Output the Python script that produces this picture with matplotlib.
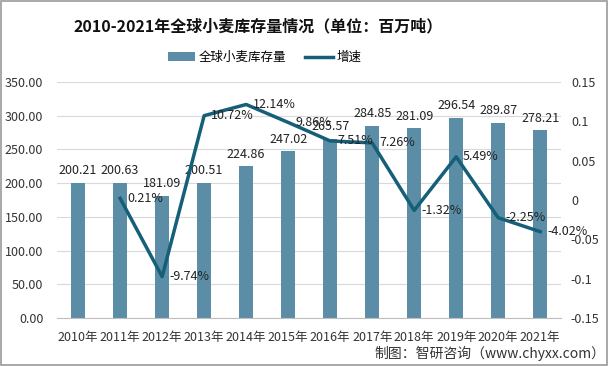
import matplotlib.pyplot as plt
from matplotlib.patches import Rectangle

plt.rcParams['font.family'] = ['Noto Sans CJK SC', 'DejaVu Sans']

years = ['2010年', '2011年', '2012年', '2013年', '2014年', '2015年',
         '2016年', '2017年', '2018年', '2019年', '2020年', '2021年']
stock = [200.21, 200.63, 181.09, 200.51, 224.86, 247.02,
         265.57, 284.85, 281.09, 296.54, 289.87, 278.21]
growth = [None, 0.0021, -0.0974, 0.1072, 0.1214, 0.0986,
          0.0751, 0.0726, -0.0132, 0.0549, -0.0225, -0.0402]
growth_labels = ['', '0.21%', '-9.74%', '10.72%', '12.14%', '9.86%',
                 '7.51%', '7.26%', '-1.32%', '5.49%', '-2.25%', '-4.02%']

bar_color = '#5b8ea6'
line_color = '#155f78'

fig = plt.figure(figsize=(6.08, 3.66), dpi=100)
ax = fig.add_axes([0.094, 0.131, 0.829, 0.645])
ax2 = ax.twinx()

x = list(range(len(years)))
bars = ax.bar(x, stock, width=0.33, color=bar_color, label='全球小麦库存量', zorder=2)
for xi, v in zip(x, stock):
    ax.annotate(f'{v:.2f}', (xi, v), xytext=(0, 4), textcoords='offset points',
                ha='center', va='bottom', fontsize=9, color='#222222')

ax.set_xlim(-0.5, len(years) - 0.5)
ax.set_ylim(0, 350)
ax.set_yticks(range(0, 351, 50))
ax.set_yticklabels([f'{t:.2f}' for t in range(0, 351, 50)])
ax.set_xticks(x)
ax.set_xticklabels(years)
ax.grid(axis='y', color='#d9d9d9', linewidth=0.8, zorder=0)
ax.set_axisbelow(True)
ax.tick_params(length=0, labelsize=9, colors='#333333')
ax.tick_params(axis='y', pad=10)
ax.tick_params(axis='x', pad=9)
for s in ['top', 'left', 'right']:
    ax.spines[s].set_visible(False)
ax.spines['bottom'].set_color('#bfbfbf')

gx = x[1:]
gy = growth[1:]
line, = ax2.plot(gx, gy, color=line_color, linewidth=2.5, label='增速', zorder=3)
for xi, v, lab in zip(gx, gy, growth_labels[1:]):
    ax2.annotate(lab, (xi, v), xytext=(5, 0), textcoords='offset points',
                 ha='left', va='center', fontsize=9, color='#222222')
ax2.set_ylim(-0.15, 0.15)
ax2.set_yticks([-0.15, -0.1, -0.05, 0, 0.05, 0.1, 0.15])
ax2.set_yticklabels(['-0.15', '-0.1', '-0.05', '0', '0.05', '0.1', '0.15'])
ax2.tick_params(length=0, labelsize=9, colors='#333333', pad=7)
for s in ax2.spines.values():
    s.set_visible(False)

fig.text(0.425, 0.928, '2010-2021年全球小麦库存量情况（单位：百万吨）',
         ha='center', va='center', fontsize=11.5, fontweight='bold', color='#111111')
fig.legend(handles=[bars, line], loc='center', bbox_to_anchor=(0.435, 0.843),
           ncol=2, frameon=False, fontsize=9, handlelength=2.2, columnspacing=1.5,
           handletextpad=0.3)
fig.text(0.995, 0.035, '制图：智研咨询（www.chyxx.com）', ha='right', va='center',
         fontsize=10, color='#333333')
fig.patches.append(Rectangle((0.002, 0.003), 0.996, 0.994, transform=fig.transFigure,
                             fill=False, edgecolor='#9a9a9a', linewidth=1.2))

fig.savefig('out.png', dpi=100)
